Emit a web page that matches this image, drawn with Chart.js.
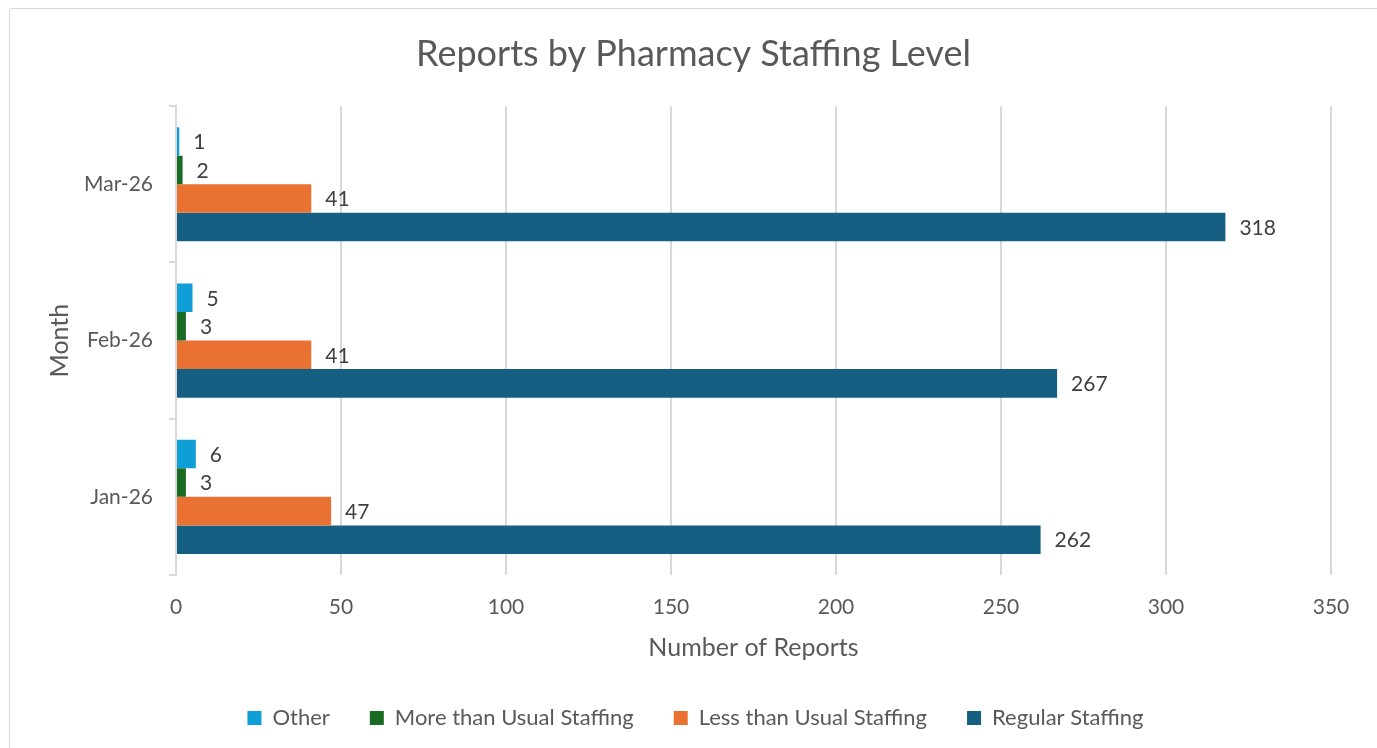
<!DOCTYPE html>
<html>
<head>
<meta charset="utf-8">
<script src="https://cdn.jsdelivr.net/npm/chart.js@4/dist/chart.umd.min.js"></script>
<style>
  html, body { margin:0; padding:0; background:#fff; }
  #frame { position:absolute; left:9px; top:8px; width:1400px; height:760px; border:1px solid #d9d9d9; border-radius:3px; }
  #wrap { position:absolute; left:0; top:0; width:1377px; height:748px; }
</style>
</head>
<body>
<div id="frame"></div>
<div id="wrap"><canvas id="chart" width="1377" height="748"></canvas></div>
<script>
// top to bottom, as in the picture
const months = ['Mar-26', 'Feb-26', 'Jan-26'];

const other = [1, 5, 6];
const moreThanUsual = [2, 3, 3];
const lessThanUsual = [41, 41, 47];
const regular = [318, 267, 262];

const FONT = "Lato, 'Noto Sans', sans-serif";
const GREY = '#595959';

// value labels at the end of each bar
const valueLabels = {
  id: 'valueLabels',
  afterDatasetsDraw(chart) {
    const ctx = chart.ctx;
    ctx.save();
    ctx.font = `21px ${FONT}`;
    ctx.fillStyle = '#404040';
    ctx.textAlign = 'left';
    ctx.textBaseline = 'middle';
    chart.data.datasets.forEach((ds, i) => {
      chart.getDatasetMeta(i).data.forEach((bar, j) => {
        ctx.fillText(ds.data[j], bar.x + 14, bar.y + 1);
      });
    });
    ctx.restore();
  }
};

// nudge title and legend so they sit centred like the original
const boxShift = {
  id: 'boxShift',
  afterLayout(chart) {
    chart.legend.left += 30;
    chart.legend.right += 30;
    chart.titleBlock.left += 28;
    chart.titleBlock.right += 28;
  }
};

new Chart(document.getElementById('chart'), {
  type: 'bar',
  data: {
    labels: months,
    datasets: [
      { label: 'Other', data: other, backgroundColor: '#0F9ED5' },
      { label: 'More than Usual Staffing', data: moreThanUsual, backgroundColor: '#196B24' },
      { label: 'Less than Usual Staffing', data: lessThanUsual, backgroundColor: '#E97132' },
      { label: 'Regular Staffing', data: regular, backgroundColor: '#156082' }
    ]
  },
  plugins: [valueLabels, boxShift],
  options: {
    indexAxis: 'y',
    responsive: false,
    animation: false,
    devicePixelRatio: 1,
    categoryPercentage: 0.73,
    barPercentage: 1,
    layout: { padding: { left: 0, right: 46, top: 0, bottom: 9 } },
    plugins: {
      title: {
        display: true,
        text: 'Reports by Pharmacy Staffing Level',
        color: GREY,
        font: { family: FONT, size: 36, weight: 'normal' },
        padding: { top: 33, bottom: 30 }
      },
      legend: {
        position: 'bottom',
        labels: {
          color: GREY,
          font: { family: FONT, size: 22 },
          boxWidth: 14,
          boxHeight: 14,
          padding: 40
        }
      },
      tooltip: { enabled: false }
    },
    scales: {
      x: {
        min: 0,
        max: 350,
        ticks: { stepSize: 50, color: GREY, font: { family: FONT, size: 21 }, padding: 20 },
        grid: { color: '#d9d9d9', lineWidth: 2, drawTicks: false },
        border: { display: false },
        title: {
          display: true,
          text: 'Number of Reports',
          color: GREY,
          font: { family: FONT, size: 25 },
          padding: { top: 0, bottom: 4 }
        },
        afterFit(scale) { scale.height = 92; }
      },
      y: {
        ticks: { color: GREY, font: { family: FONT, size: 21 }, padding: 16 },
        grid: { offset: true, drawOnChartArea: false, drawTicks: true, tickLength: 7, color: '#d9d9d9', lineWidth: 2 },
        border: { color: '#d9d9d9', width: 2 },
        title: {
          display: true,
          text: 'Month',
          color: GREY,
          font: { family: FONT, size: 25 },
          padding: { top: 45, bottom: 0 }
        },
        afterFit(scale) { scale.width = 176; }
      }
    }
  }
});
</script>
</body>
</html>
